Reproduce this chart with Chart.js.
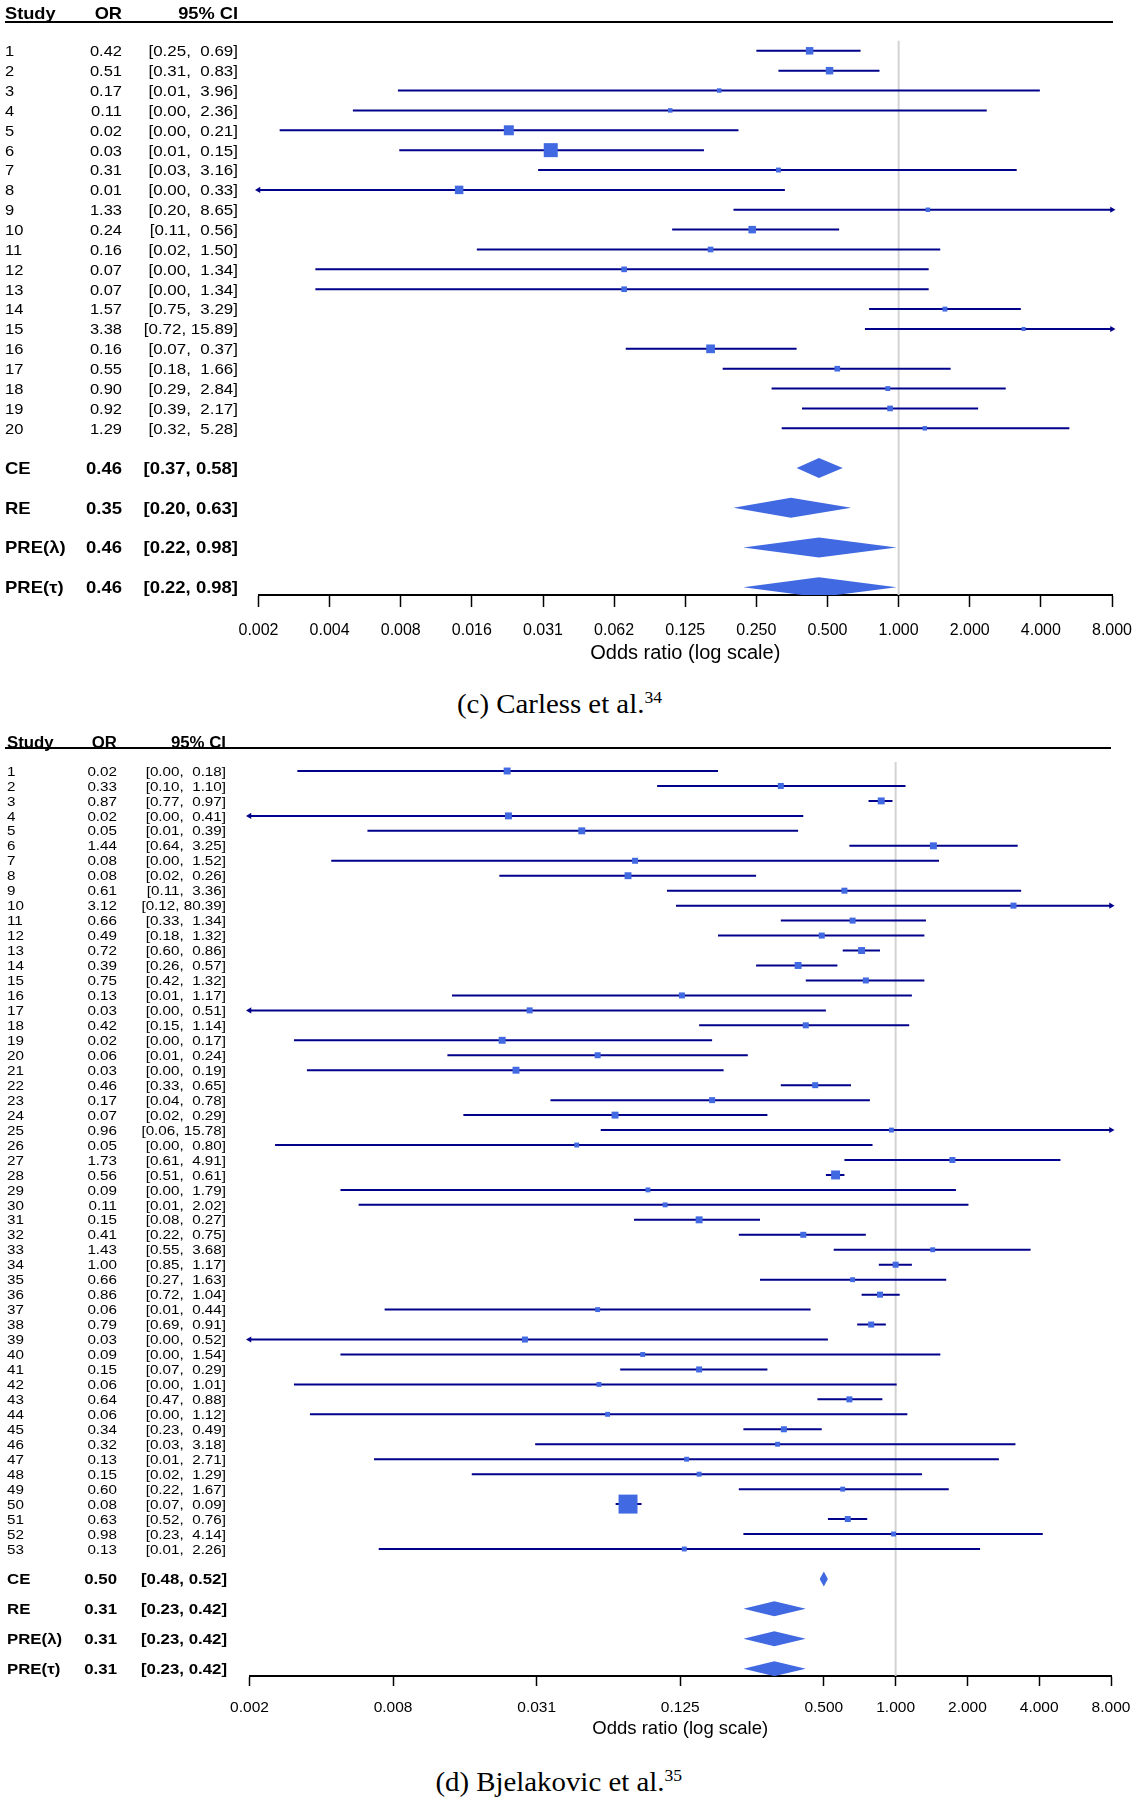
<!DOCTYPE html>
<html>
<head>
<meta charset="utf-8">
<script src="https://cdn.jsdelivr.net/npm/chart.js@4.4.0/dist/chart.umd.min.js"></script>
<style>
  body { margin: 0; background: #fff; width: 1140px; height: 1800px; position: relative; overflow: hidden; }
  canvas { position: absolute; left: 0; }
  .cap { position: absolute; left: 0; width: 1118px; text-align: center; line-height: 32px;
         font-family: "Liberation Serif", "Times New Roman", serif; font-size: 28px; color: #000; }
  .cap span { display: inline-block; transform: scaleX(1.03); }
  .cap sup { font-size: 17px; }
</style>
</head>
<body>
<canvas id="panelC" width="1140" height="680" style="top:0"></canvas>
<div class="cap" style="top:682px"><span>(c) Carless et al.<sup>34</sup></span></div>
<canvas id="panelD" width="1140" height="1020" style="top:730px"></canvas>
<div class="cap" style="top:1760px"><span>(d) Bjelakovic et al.<sup>35</sup></span></div>

<script>
// ---------- (c) Carless et al.
const studiesC = ['1','2','3','4','5','6','7','8','9','10','11','12','13','14','15','16','17','18','19','20'];
const orC = [0.42, 0.51, 0.174, 0.108, 0.0224, 0.0337, 0.31, 0.0138, 1.33, 0.24,
             0.16, 0.0689, 0.0689, 1.57, 3.38, 0.16, 0.55, 0.90, 0.92, 1.29];
const loC = [0.25, 0.31, 0.0076, 0.0049, 0.0024, 0.0077, 0.0298, 0.0015, 0.20, 0.11,
             0.0164, 0.0034, 0.0034, 0.75, 0.72, 0.07, 0.18, 0.29, 0.39, 0.32];
const hiC = [0.69, 0.83, 3.96, 2.36, 0.21, 0.15, 3.16, 0.33, 8.65, 0.56,
             1.50, 1.34, 1.34, 3.29, 15.89, 0.37, 1.66, 2.84, 2.17, 5.28];
const wtC = [14, 14, 5, 5, 25, 49, 6, 18, 5, 14, 8, 8, 8, 6, 4, 19, 8, 6, 8, 5];
const sumLabels = ['CE', 'RE', 'PRE(λ)', 'PRE(τ)'];
const sumOrC = [0.46, 0.35, 0.46, 0.46];
const sumLoC = [0.37, 0.20, 0.22, 0.22];
const sumHiC = [0.58, 0.63, 0.98, 0.98];
const ticksC = [0.001953125, 0.00390625, 0.0078125, 0.015625, 0.03125, 0.0625, 0.125, 0.25, 0.5, 1, 2, 4, 8];
const tickLabelsC = ['0.002','0.004','0.008','0.016','0.031','0.062','0.125','0.250','0.500','1.000','2.000','4.000','8.000'];

// ---------- (d) Bjelakovic et al.
const studiesD = Array.from({length: 53}, (_, i) => String(i + 1));
const orD = [0.0235, 0.33, 0.87, 0.0238, 0.0483, 1.44, 0.0808, 0.0755, 0.61, 3.12,
             0.66, 0.49, 0.72, 0.39, 0.75, 0.127, 0.0292, 0.42, 0.0224, 0.0563,
             0.0256, 0.46, 0.17, 0.0666, 0.96, 0.046, 1.73, 0.56, 0.0915, 0.108,
             0.15, 0.41, 1.43, 1.00, 0.66, 0.86, 0.0563, 0.79, 0.0279, 0.087,
             0.15, 0.057, 0.64, 0.062, 0.34, 0.32, 0.133, 0.15, 0.60, 0.0755,
             0.63, 0.98, 0.13];
const loD = [0.0031, 0.10, 0.77, 0.0012, 0.0061, 0.64, 0.0043, 0.0218, 0.11, 0.12,
             0.33, 0.18, 0.60, 0.26, 0.42, 0.0138, 0.0012, 0.15, 0.0030, 0.0132,
             0.0034, 0.33, 0.0357, 0.0154, 0.058, 0.0025, 0.61, 0.51, 0.0047, 0.0056,
             0.08, 0.22, 0.55, 0.85, 0.27, 0.72, 0.0072, 0.69, 0.0012, 0.0047,
             0.07, 0.0030, 0.47, 0.0035, 0.23, 0.0308, 0.0065, 0.0167, 0.22, 0.067,
             0.52, 0.23, 0.0068];
const hiD = [0.18, 1.10, 0.97, 0.41, 0.39, 3.25, 1.52, 0.26, 3.36, 80.39,
             1.34, 1.32, 0.86, 0.57, 1.32, 1.17, 0.51, 1.14, 0.17, 0.24,
             0.19, 0.65, 0.78, 0.29, 15.78, 0.80, 4.91, 0.61, 1.79, 2.02,
             0.27, 0.75, 3.68, 1.17, 1.63, 1.04, 0.44, 0.91, 0.52, 1.54,
             0.29, 1.01, 0.88, 1.12, 0.49, 3.18, 2.71, 1.29, 1.67, 0.086,
             0.76, 4.14, 2.26];
const wtD = [12, 9, 12, 12, 12, 12, 9, 12, 9, 9, 9, 9, 12, 12, 9, 9, 9, 9, 12, 9,
             12, 9, 9, 12, 6, 6, 9, 20, 6, 6, 12, 9, 6, 9, 6, 9, 6, 9, 9, 6,
             9, 6, 9, 6, 9, 6, 6, 6, 6, 90, 9, 6, 6];
const sumOrD = [0.50, 0.31, 0.31, 0.31];
const sumLoD = [0.48, 0.23, 0.23, 0.23];
const sumHiD = [0.52, 0.42, 0.42, 0.42];
const ticksD = [0.001953125, 0.0078125, 0.03125, 0.125, 0.5, 1, 2, 4, 8];
const tickLabelsD = ['0.002','0.008','0.031','0.125','0.500','1.000','2.000','4.000','8.000'];

const XMIN = 0.001953125, XMAX = 8;
const BLUE = '#4169E1', NAVY = '#00008B';
const FAMILY = '"Liberation Sans", Arial, Helvetica, sans-serif';
Chart.defaults.font.family = FAMILY;

function tablePlugin(p) {
  return {
    id: 'forestTable',
    afterDraw(chart) {
      const ctx = chart.ctx, ys = chart.scales.y, top = chart.chartArea.top;
      const txt = (s, x, y, size, bold, align, stretch) => {
        ctx.save();
        ctx.font = (bold ? 'bold ' : '') + size + 'px ' + FAMILY;
        ctx.textAlign = align;
        ctx.textBaseline = 'alphabetic';
        ctx.fillStyle = '#000';
        ctx.translate(x, y);
        ctx.scale(stretch, 1);
        ctx.fillText(s, 0, 0);
        ctx.restore();
      };
      // header rule
      ctx.save();
      ctx.strokeStyle = '#000';
      ctx.lineWidth = 2;
      ctx.beginPath();
      ctx.moveTo(p.ruleL, top);
      ctx.lineTo(p.ruleR, top);
      ctx.stroke();
      ctx.restore();
      const hb = top - p.headGap;
      txt('Study', p.colStudy, hb, p.headSize, true, 'left', p.headStretch);
      txt('OR', p.colOr, hb, p.headSize, true, 'right', p.headStretch);
      txt('95% CI', p.colCi, hb, p.headSize, true, 'right', p.headStretch);
      p.studies.forEach((s, i) => {
        const y = ys.getPixelForValue(i + 1) + 0.358 * p.rowSize;
        txt(s, p.colStudy, y, p.rowSize, false, 'left', p.rowStretch);
        txt(p.or[i].toFixed(2), p.colOr, y, p.rowSize, false, 'right', p.rowStretch);
        const ci = '[' + p.lo[i].toFixed(2) + ', ' + p.hi[i].toFixed(2).padStart(5, ' ') + ']';
        txt(ci, p.colCi, y, p.rowSize, false, 'right', p.ciStretch);
      });
      const n = p.studies.length;
      sumLabels.forEach((s, k) => {
        const y = ys.getPixelForValue(n + 2 + 2 * k) + 0.358 * p.sumSize;
        txt(s, p.colStudy, y, p.sumSize, true, 'left', p.sumStretch);
        txt(p.sumOr[k].toFixed(2), p.colOr, y, p.sumSize, true, 'right', p.sumStretch);
        txt('[' + p.sumLo[k].toFixed(2) + ', ' + p.sumHi[k].toFixed(2) + ']', p.colCi + p.sumCiShift, y, p.sumSize, true, 'right', p.sumStretch);
      });
    }
  };
}

function forest(id, p) {
  const n = p.or.length;
  const clipX = v => Math.min(Math.max(v, XMIN), XMAX);
  const ciPts = [], arrowPts = [], arrowRot = [];
  p.lo.forEach((lo, i) => {
    const y = i + 1;
    ciPts.push({x: clipX(lo), y}, {x: clipX(p.hi[i]), y}, {x: 1, y: null});
    if (lo < XMIN) { arrowPts.push({x: XMIN, y}); arrowRot.push(-90); }
    if (p.hi[i] > XMAX) { arrowPts.push({x: XMAX, y}); arrowRot.push(90); }
  });

  const datasets = [
    { // study squares, size from weight
      data: p.or.map((v, i) => ({x: v, y: i + 1})),
      showLine: false, pointStyle: 'rect',
      pointRadius: p.wt.map(w => Math.SQRT2 * Math.sqrt(w)),
      pointBackgroundColor: BLUE, pointBorderWidth: 0, order: 0, clip: false
    },
    { // arrows for intervals beyond the axis
      data: arrowPts, showLine: false, pointStyle: 'triangle', pointRotation: arrowRot,
      pointRadius: 3.5, pointBackgroundColor: NAVY, pointBorderWidth: 0, order: 1, clip: false
    },
    { // confidence intervals
      data: ciPts, borderColor: NAVY, borderWidth: 2, pointRadius: 0, spanGaps: false, order: 2
    }
  ];
  p.sumOr.forEach((e, k) => {
    const y = n + 2 + 2 * k;
    datasets.push({
      data: [{x: p.sumLo[k], y}, {x: e, y: y - 0.5}, {x: p.sumHi[k], y}],
      fill: '+1', backgroundColor: BLUE, borderWidth: 0, borderColor: 'rgba(0,0,0,0)', pointRadius: 0, order: 3
    });
    datasets.push({
      data: [{x: p.sumLo[k], y}, {x: e, y: y + 0.5}, {x: p.sumHi[k], y}],
      fill: false, borderWidth: 0, borderColor: 'rgba(0,0,0,0)', pointRadius: 0, order: 3
    });
  });
  datasets.push({ // no-effect line at OR = 1
    data: [{x: 1, y: p.refTop}, {x: 1, y: p.yMax}],
    borderColor: '#d3d3d3', borderWidth: 2, pointRadius: 0, order: 5
  });

  return new Chart(document.getElementById(id), {
    type: 'line',
    data: { datasets },
    options: {
      responsive: false, animation: false, devicePixelRatio: 1, events: [],
      layout: { padding: { left: p.padL, right: p.padR, top: p.padT, bottom: 0 } },
      plugins: { legend: { display: false }, tooltip: { enabled: false } },
      scales: {
        x: {
          type: 'logarithmic', min: XMIN, max: XMAX, position: 'bottom',
          afterBuildTicks: s => { s.ticks = p.ticks.map(v => ({value: v})); },
          afterFit: s => { s.height = p.axisH; s.paddingLeft = 0; s.paddingRight = 0; },
          ticks: {
            autoSkip: false, maxRotation: 0, minRotation: 0, padding: p.tickPad, color: '#000',
            font: { size: p.tickSize }, callback: (v, i) => p.tickLabels[i]
          },
          grid: { drawOnChartArea: false, drawTicks: true, tickLength: p.tickLen, tickColor: '#000', tickWidth: 1.5 },
          border: { display: true, color: '#000', width: 2 },
          title: {
            display: true, text: 'Odds ratio (log scale)', color: '#000',
            font: { size: p.titleSize }, padding: { top: 0, bottom: p.titlePad }
          }
        },
        y: { type: 'linear', display: false, reverse: true, min: p.yMin, max: p.yMax }
      }
    },
    plugins: [tablePlugin(p)]
  });
}

forest('panelC', {
  studies: studiesC, or: orC, lo: loC, hi: hiC, wt: wtC,
  sumOr: sumOrC, sumLo: sumLoC, sumHi: sumHiC, ticks: ticksC, tickLabels: tickLabelsC,
  padL: 258.5, padR: 28, padT: 22, axisH: 85, yMin: -0.45, yMax: 28.39, refTop: 0.5,
  tickLen: 12, tickPad: 14, tickSize: 16, titleSize: 20, titlePad: 15,
  ruleL: 5, ruleR: 1113, headGap: 3.5, colStudy: 5, colOr: 122, colCi: 238, sumCiShift: 0,
  headSize: 16.3, headStretch: 1.12, rowSize: 15, rowStretch: 1.1, ciStretch: 1.13, sumSize: 16.5, sumStretch: 1.12
});

forest('panelD', {
  studies: studiesD, or: orD, lo: loD, hi: hiD, wt: wtD,
  sumOr: sumOrD, sumLo: sumLoD, sumHi: sumHiD, ticks: ticksD, tickLabels: tickLabelsD,
  padL: 249.5, padR: 29, padT: 18, axisH: 74, yMin: -0.537, yMax: 61.49, refTop: 0.4,
  tickLen: 10, tickPad: 12, tickSize: 15.5, titleSize: 18.5, titlePad: 10,
  ruleL: 5, ruleR: 1111, headGap: 0.5, colStudy: 7, colOr: 117, colCi: 226, sumCiShift: 1,
  headSize: 16, headStretch: 1.05, rowSize: 13, rowStretch: 1.17, ciStretch: 1.17, sumSize: 15.3, sumStretch: 1.1
});
</script>
</body>
</html>
